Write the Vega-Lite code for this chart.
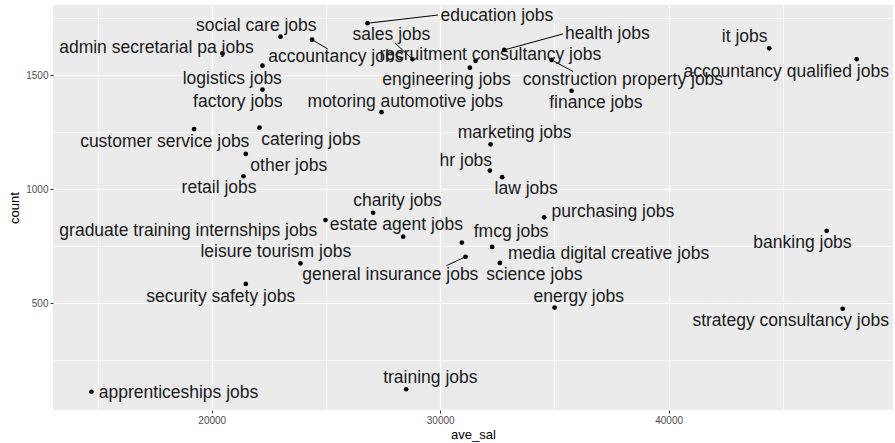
{
  "$schema": "https://vega.github.io/schema/vega-lite/v6.json",
  "autosize": {"type": "none"},
  "padding": {"left": 53, "top": 5, "right": 2, "bottom": 33},
  "width": 840,
  "height": 405,
  "background": "white",
  "config": {
    "view": {"fill": "#EBEBEB", "stroke": null},
    "font": "Liberation Sans",
    "axis": {
      "domain": false,
      "gridColor": "white",
      "tickColor": "#333333",
      "tickSize": 3,
      "labelColor": "#4D4D4D",
      "labelFontSize": 10,
      "labelFont": "Liberation Sans",
      "titleFont": "Liberation Sans",
      "titleFontWeight": "normal",
      "titleFontSize": 13,
      "titleColor": "black",
      "labelPadding": 2
    }
  },
  "data": {
    "values": [
      {"job": "education jobs", "ave_sal": 26819, "count": 1728, "lx": 32481, "ly": 1760, "sx": 29897, "sy": 1764},
      {"job": "social care jobs", "ave_sal": 23009, "count": 1669, "lx": 21949, "ly": 1716},
      {"job": "accountancy jobs", "ave_sal": 24392, "count": 1656, "lx": 25430, "ly": 1580, "sx": 25080, "sy": 1615},
      {"job": "admin secretarial pa jobs", "ave_sal": 20469, "count": 1596, "lx": 17578, "ly": 1621},
      {"job": "logistics jobs", "ave_sal": 22220, "count": 1542, "lx": 20898, "ly": 1485},
      {"job": "factory jobs", "ave_sal": 22220, "count": 1437, "lx": 21139, "ly": 1383},
      {"job": "sales jobs", "ave_sal": 28789, "count": 1570, "lx": 27861, "ly": 1677, "sx": 28014, "sy": 1642},
      {"job": "motoring automotive jobs", "ave_sal": 27432, "count": 1338, "lx": 28474, "ly": 1384},
      {"job": "customer service jobs", "ave_sal": 19225, "count": 1264, "lx": 17942, "ly": 1209},
      {"job": "catering jobs", "ave_sal": 22089, "count": 1270, "lx": 24335, "ly": 1216},
      {"job": "other jobs", "ave_sal": 21489, "count": 1155, "lx": 23372, "ly": 1104},
      {"job": "retail jobs", "ave_sal": 21388, "count": 1057, "lx": 20320, "ly": 1004},
      {"job": "charity jobs", "ave_sal": 27064, "count": 897, "lx": 28132, "ly": 949},
      {"job": "graduate training internships jobs", "ave_sal": 24979, "count": 865, "lx": 18971, "ly": 817},
      {"job": "estate agent jobs", "ave_sal": 28378, "count": 792, "lx": 28080, "ly": 843},
      {"job": "leisure tourism jobs", "ave_sal": 23884, "count": 675, "lx": 22803, "ly": 724},
      {"job": "security safety jobs", "ave_sal": 21489, "count": 585, "lx": 20394, "ly": 529},
      {"job": "apprenticeships jobs", "ave_sal": 14732, "count": 112, "lx": 18546, "ly": 108},
      {"job": "training jobs", "ave_sal": 28509, "count": 123, "lx": 29569, "ly": 171},
      {"job": "health jobs", "ave_sal": 32801, "count": 1611, "lx": 37320, "ly": 1681, "sx": 35371, "sy": 1681},
      {"job": "recruitment consultancy jobs", "ave_sal": 31548, "count": 1563, "lx": 32196, "ly": 1589},
      {"job": "engineering jobs", "ave_sal": 31298, "count": 1533, "lx": 30278, "ly": 1479},
      {"job": "construction property jobs", "ave_sal": 34876, "count": 1567, "lx": 37999, "ly": 1479, "sx": 35822, "sy": 1516},
      {"job": "finance jobs", "ave_sal": 35752, "count": 1432, "lx": 36816, "ly": 1377},
      {"job": "it jobs", "ave_sal": 44406, "count": 1618, "lx": 43328, "ly": 1669},
      {"job": "accountancy qualified jobs", "ave_sal": 48233, "count": 1570, "lx": 45150, "ly": 1516},
      {"job": "marketing jobs", "ave_sal": 32205, "count": 1197, "lx": 33260, "ly": 1246},
      {"job": "hr jobs", "ave_sal": 32174, "count": 1082, "lx": 31123, "ly": 1125},
      {"job": "law jobs", "ave_sal": 32713, "count": 1053, "lx": 33764, "ly": 1000},
      {"job": "purchasing jobs", "ave_sal": 34552, "count": 877, "lx": 37561, "ly": 902},
      {"job": "fmcg jobs", "ave_sal": 30948, "count": 766, "lx": 33107, "ly": 811},
      {"job": "media digital creative jobs", "ave_sal": 32275, "count": 747, "lx": 37373, "ly": 716},
      {"job": "general insurance jobs", "ave_sal": 31110, "count": 704, "lx": 27817, "ly": 624, "sx": 30278, "sy": 665},
      {"job": "science jobs", "ave_sal": 32612, "count": 677, "lx": 34123, "ly": 624},
      {"job": "energy jobs", "ave_sal": 35008, "count": 481, "lx": 36063, "ly": 529},
      {"job": "banking jobs", "ave_sal": 46919, "count": 818, "lx": 45860, "ly": 766},
      {"job": "strategy consultancy jobs", "ave_sal": 47620, "count": 476, "lx": 45343, "ly": 424}
    ]
  },
  "layer": [
    {
      "transform": [{"filter": "isValid(datum.sx)"}],
      "mark": {"type": "rule", "color": "black", "strokeWidth": 1},
      "encoding": {
        "x": {"field": "ave_sal", "type": "quantitative"},
        "y": {"field": "count", "type": "quantitative"},
        "x2": {"field": "sx"},
        "y2": {"field": "sy"}
      }
    },
    {
      "mark": {"type": "circle", "color": "black", "opacity": 1, "size": 22},
      "encoding": {
        "x": {
          "field": "ave_sal", "type": "quantitative",
          "scale": {"domain": [13050, 49823], "nice": false, "zero": false},
          "axis": {
            "title": "ave_sal",
            "values": [15000, 20000, 25000, 30000, 35000, 40000, 45000],
            "format": "d",
            "labelExpr": "datum.value % 10000 === 0 ? datum.label : ''",
            "gridWidth": {"condition": {"test": "datum.value % 10000 === 0", "value": 1.2}, "value": 0.6},
            "tickOpacity": {"condition": {"test": "datum.value % 10000 === 0", "value": 1}, "value": 0},
            "titlePadding": 3
          }
        },
        "y": {
          "field": "count", "type": "quantitative",
          "scale": {"domain": [32, 1808], "nice": false, "zero": false},
          "axis": {
            "title": "count",
            "values": [250, 500, 750, 1000, 1250, 1500, 1750],
            "format": "d",
            "labelExpr": "datum.value % 500 === 0 ? datum.label : ''",
            "gridWidth": {"condition": {"test": "datum.value % 500 === 0", "value": 1.2}, "value": 0.6},
            "tickOpacity": {"condition": {"test": "datum.value % 500 === 0", "value": 1}, "value": 0},
            "titlePadding": 4
          }
        }
      }
    },
    {
      "mark": {"type": "text", "fontSize": 17.5, "color": "#1a1a1a", "font": "Liberation Sans", "baseline": "middle", "align": "center"},
      "encoding": {
        "x": {"field": "lx", "type": "quantitative"},
        "y": {"field": "ly", "type": "quantitative"},
        "text": {"field": "job"}
      }
    }
  ]
}
